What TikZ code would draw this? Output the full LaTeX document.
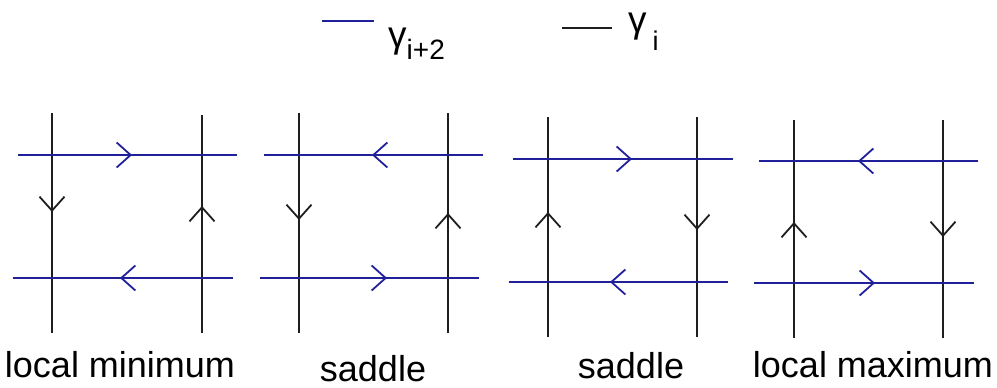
\documentclass[tikz,border=0pt]{standalone}
\usepackage{fontspec}
\setmainfont{Liberation Sans}
\usepackage{tikz}
\usetikzlibrary{arrows.meta}
\definecolor{gammablue}{RGB}{32, 32, 155}
\definecolor{gammablack}{RGB}{30, 30, 30}
\newcommand{\lowsub}[1]{\raisebox{-13pt}{\fontsize{28}{30}\selectfont #1}}

\begin{document}
\begin{tikzpicture}[
    x=1pt, y=-1pt,
    blueline/.style={draw=gammablue, line width=1.8pt},
    blackline/.style={draw=gammablack, line width=1.8pt},
    barb/.style={-{Straight Barb[length=14pt, width=25pt, line width=1.8pt]}},
    caption/.style={font=\fontsize{36}{40}\selectfont, anchor=base, inner sep=0pt},
    keytext/.style={font=\fontsize{37}{40}\selectfont, anchor=base west, inner sep=0pt}
]
    \useasboundingbox (0,0) rectangle (997,388);

    % Legend
    \draw[blueline] (322,21) -- (374,21);
    \node[keytext] (keyblue) at (388,47) {γ\lowsub{i+2}};
    \draw[blackline] (562,28) -- (612,28);
    \node[keytext] (keyblack) at (628,32) {γ\hspace{6pt}\raisebox{-18pt}{\fontsize{27}{30}\selectfont i}};

    % Local minimum
    \draw[blackline] (52,113) -- (52,333);
    \draw[blackline, barb] (52,113) -- (52,212);
    \draw[blackline] (202,115) -- (202,333);
    \draw[blackline, barb] (202,333) -- (202,206);
    \draw[blueline] (18,155) -- (237,155);
    \draw[blueline, barb] (18,155) -- (132,155);
    \draw[blueline] (13,278) -- (233,278);
    \draw[blueline, barb] (233,278) -- (120,278);
    \node[caption] (locmin) at (120,377) {local minimum};

    % Saddle
    \draw[blackline] (299,113) -- (299,333);
    \draw[blackline, barb] (299,113) -- (299,220);
    \draw[blackline] (448,113) -- (448,333);
    \draw[blackline, barb] (448,333) -- (448,213);
    \draw[blueline] (264,155) -- (483,155);
    \draw[blueline, barb] (483,155) -- (372,155);
    \draw[blueline] (260,278) -- (479,278);
    \draw[blueline, barb] (260,278) -- (387,278);
    \node[caption] (saddleA) at (373,381) {saddle};

    % Saddle
    \draw[blackline] (548,117) -- (548,337);
    \draw[blackline, barb] (548,337) -- (548,212);
    \draw[blackline] (697,117) -- (697,337);
    \draw[blackline, barb] (697,117) -- (697,230);
    \draw[blueline] (513,159) -- (733,159);
    \draw[blueline, barb] (513,159) -- (632,159);
    \draw[blueline] (509,282) -- (728,282);
    \draw[blueline, barb] (728,282) -- (610,282);
    \node[caption] (saddleB) at (631,378) {saddle};

    % Local maximum
    \draw[blackline] (794,120) -- (794,338);
    \draw[blackline, barb] (794,338) -- (794,222);
    \draw[blackline] (943,120) -- (943,338);
    \draw[blackline, barb] (943,120) -- (943,237);
    \draw[blueline] (759,161) -- (978,161);
    \draw[blueline, barb] (978,161) -- (858,161);
    \draw[blueline] (754,283) -- (974,283);
    \draw[blueline, barb] (754,283) -- (875,283);
    \node[caption] (locmax) at (873,377) {local maximum};
\end{tikzpicture}
\end{document}
